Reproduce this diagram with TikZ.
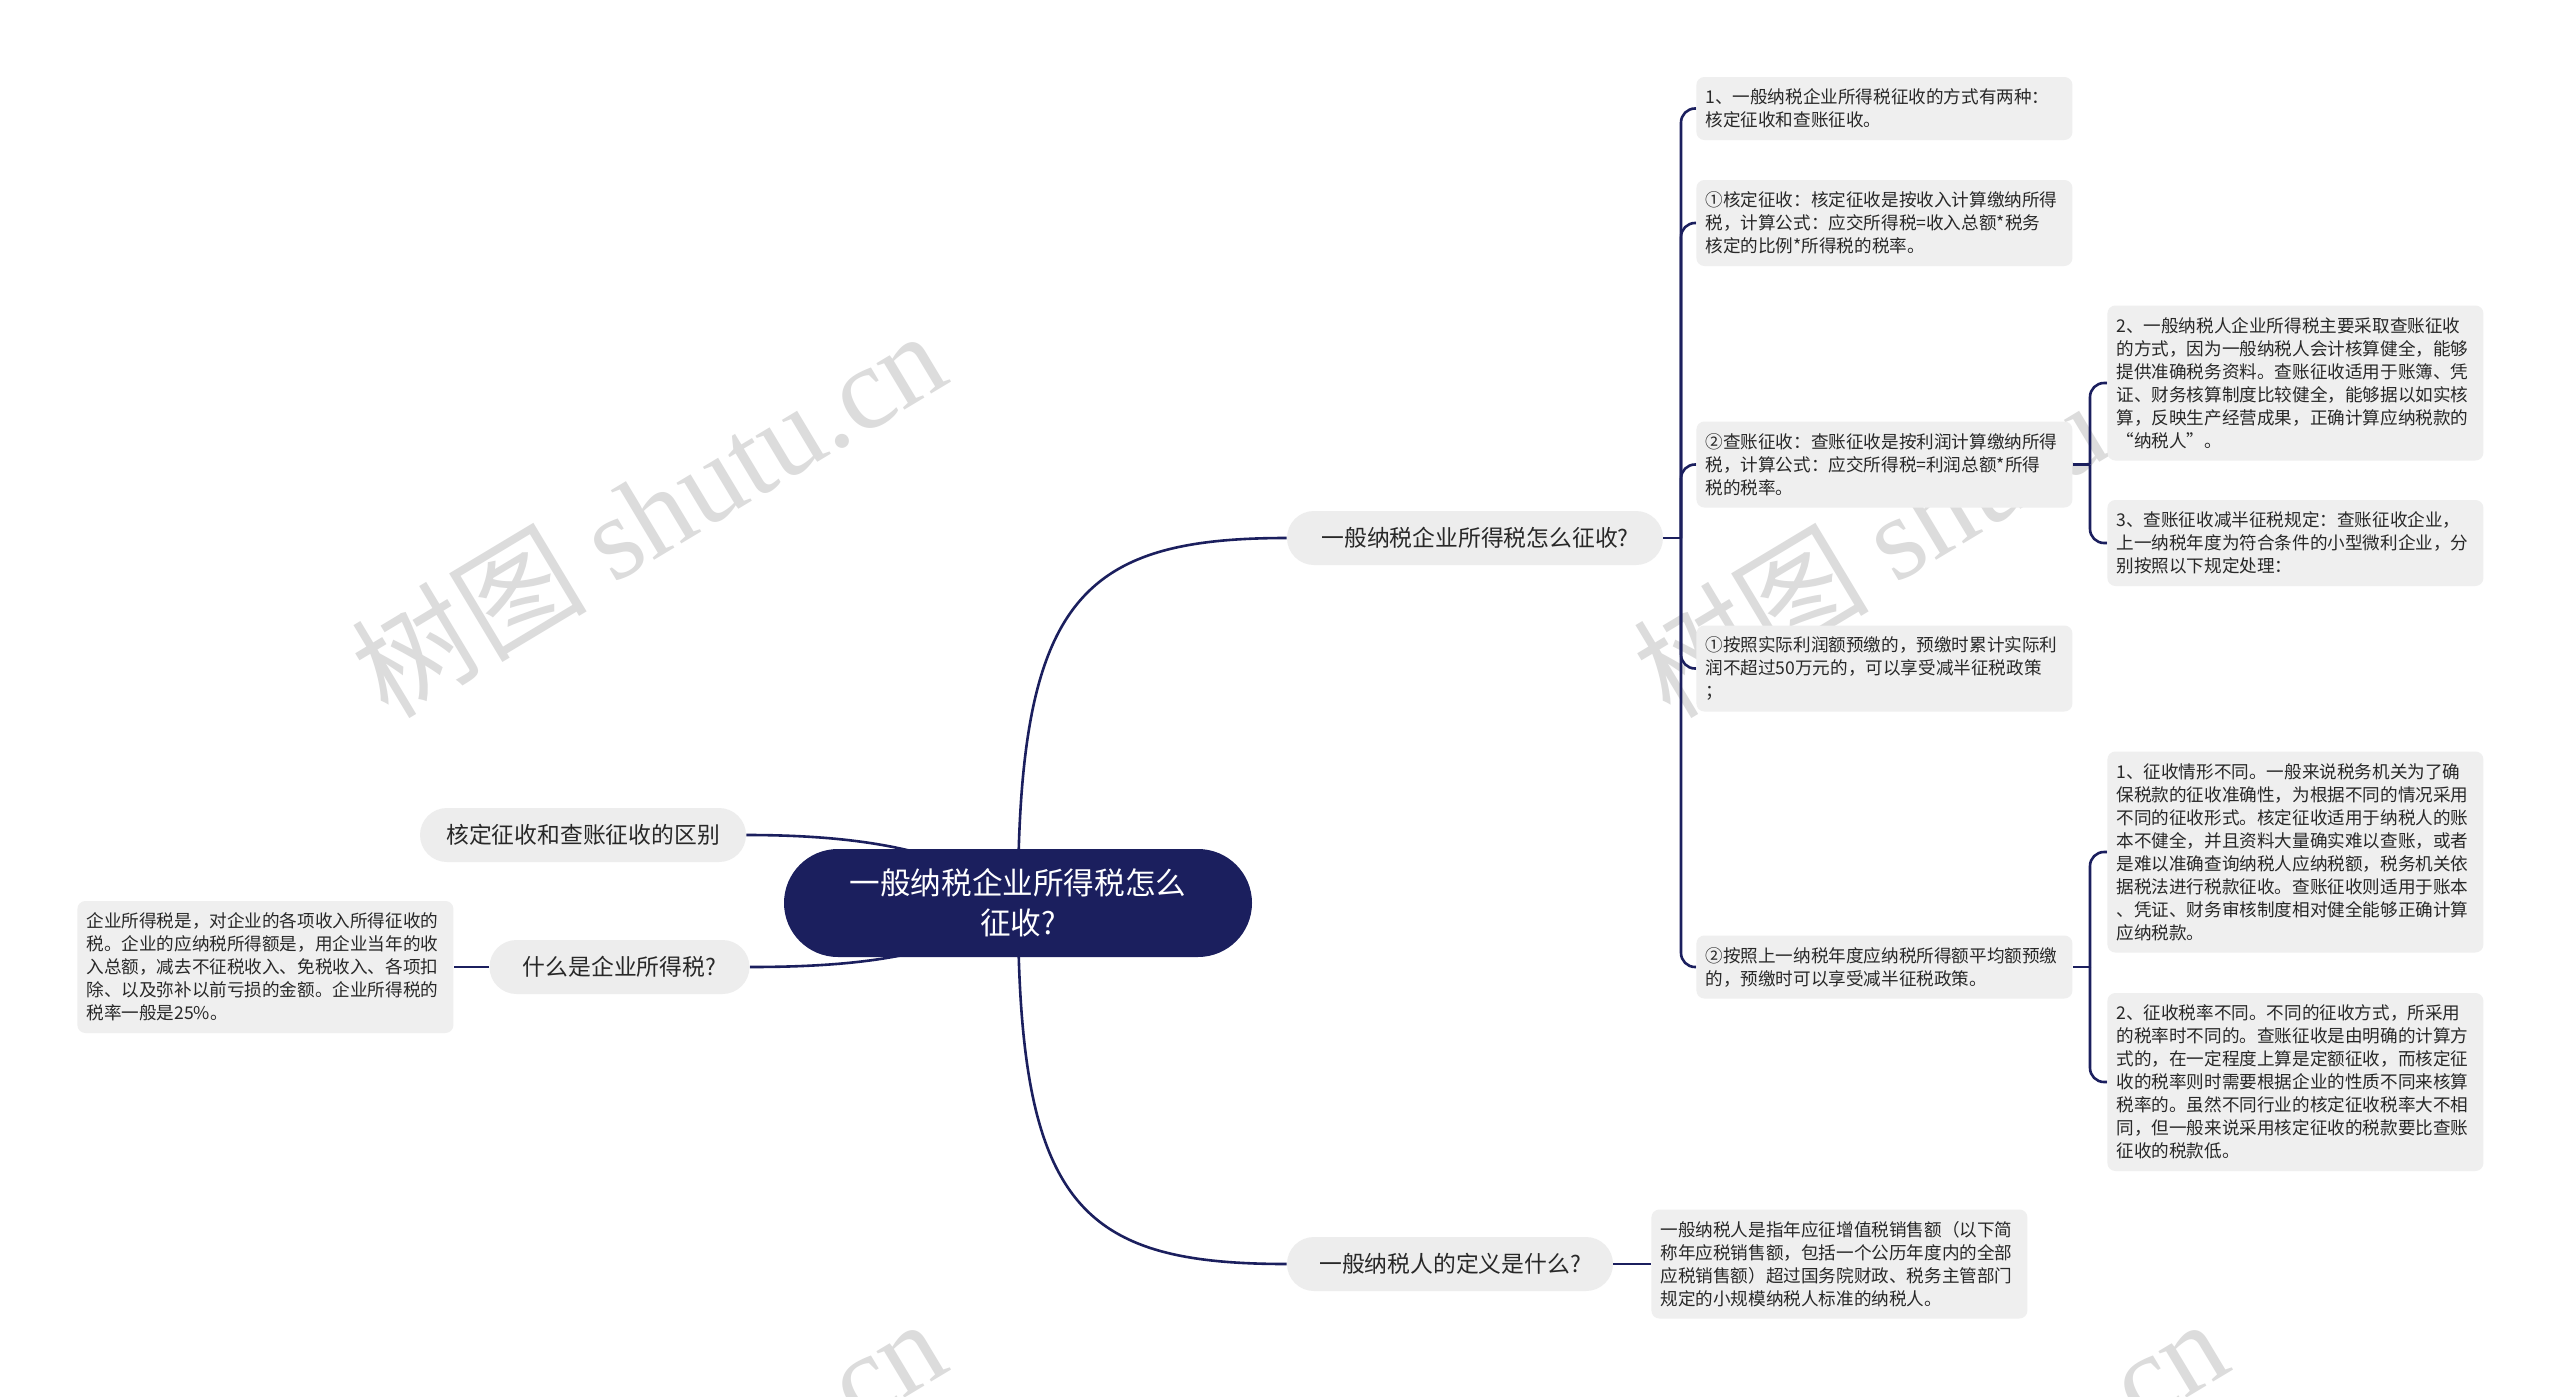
\documentclass[tikz,border=0pt]{standalone}
\usepackage{fontspec}
\setmainfont{Noto Sans CJK SC}
\newfontfamily\wmlatin{Liberation Serif}
\definecolor{navy}{RGB}{27,31,94}
\definecolor{boxgray}{RGB}{239,239,239}
\definecolor{pillgray}{RGB}{237,237,237}
\definecolor{txt}{RGB}{40,40,40}
\definecolor{wmgray}{RGB}{220,220,220}
\pgfdeclarelayer{wmlayer}
\pgfdeclarelayer{linelayer}
\pgfsetlayers{wmlayer,linelayer,main}
\begin{document}
\begin{tikzpicture}[x=0.5pt,y=-0.5pt,
  conn/.style={draw=navy,line width=1.3pt},
  bracket/.style={conn,rounded corners=7pt},
  tbox/.style={fill=boxgray,rounded corners=4pt,text=txt,align=left,text width=179pt,
    inner xsep=4.5pt,inner ysep=2pt,font=\fontsize{8.8pt}{11.5pt}\selectfont,
    minimum height=#1*11.5pt+8.5pt,anchor=west},
  pill/.style={fill=pillgray,rounded corners=13.5pt,text=txt,minimum height=27pt,
    font=\fontsize{11.4pt}{14pt}\selectfont,inner xsep=0pt},
  hubnode/.style={fill=navy,text=white,rounded corners=27pt,minimum width=234pt,
    minimum height=54pt,align=center,font=\fontsize{15.3pt}{20pt}\selectfont},
  wm/.style={text=wmgray,font=\fontsize{59pt}{65pt}\selectfont,rotate=31,inner sep=0pt}
]
\useasboundingbox (0,0) rectangle (2560,1397);
\begin{pgfonlayer}{wmlayer}
\fill[white] (0,0) rectangle (2560,1397);
\begin{scope}
\clip (0,0) rectangle (2560,1397);
\node[wm] (w1) at (648,512) {树图 {\wmlatin shutu.cn}};
\node[wm] (w2) at (1930,512) {树图 {\wmlatin shutu.cn}};
\node[wm] (w3) at (648,1500) {树图 {\wmlatin shutu.cn}};
\node[wm] (w4) at (1930,1500) {树图 {\wmlatin shutu.cn}};
\end{scope}
\end{pgfonlayer}

% central node
\node[hubnode] (c) at (1018,903) {一般纳税企业所得税怎么\\征收?};

% level 1
\node[pill,minimum width=188pt] (p1) at (1475,538) {一般纳税企业所得税怎么征收?};
\node[pill,minimum width=163pt] (p2) at (1450,1264) {一般纳税人的定义是什么?};
\node[pill,minimum width=163pt] (p3) at (583,835) {核定征收和查账征收的区别};
\node[pill,minimum width=130pt] (p4) at (619.5,967) {什么是企业所得税?};

% level 2
\node[tbox=2] (b1) at (1696,108.5) {1、一般纳税企业所得税征收的方式有两种：\\核定征收和查账征收。};
\node[tbox=3] (b2) at (1696,223) {①核定征收：核定征收是按收入计算缴纳所得\\税，计算公式：应交所得税=收入总额*税务\\核定的比例*所得税的税率。};
\node[tbox=3] (b3) at (1696,464.5) {②查账征收：查账征收是按利润计算缴纳所得\\税，计算公式：应交所得税=利润总额*所得\\税的税率。};
\node[tbox=3] (b4) at (1696,668.5) {①按照实际利润额预缴的，预缴时累计实际利\\润不超过50万元的，可以享受减半征税政策\\；};
\node[tbox=2] (b5) at (1696,967) {②按照上一纳税年度应纳税所得额平均额预缴\\的，预缴时可以享受减半征税政策。};

% level 3
\node[tbox=6] (bA) at (2107,383) {2、一般纳税人企业所得税主要采取查账征收\\的方式，因为一般纳税人会计核算健全，能够\\提供准确税务资料。查账征收适用于账簿、凭\\证、财务核算制度比较健全，能够据以如实核\\算，反映生产经营成果，正确计算应纳税款的\\“纳税人”。};
\node[tbox=3] (bB) at (2107,543) {3、查账征收减半征税规定：查账征收企业，\\上一纳税年度为符合条件的小型微利企业，分\\别按照以下规定处理：};
\node[tbox=8] (bC) at (2107,852) {1、征收情形不同。一般来说税务机关为了确\\保税款的征收准确性，为根据不同的情况采用\\不同的征收形式。核定征收适用于纳税人的账\\本不健全，并且资料大量确实难以查账，或者\\是难以准确查询纳税人应纳税额，税务机关依\\据税法进行税款征收。查账征收则适用于账本\\、凭证、财务审核制度相对健全能够正确计算\\应纳税款。};
\node[tbox=7] (bD) at (2107,1082) {2、征收税率不同。不同的征收方式，所采用\\的税率时不同的。查账征收是由明确的计算方\\式的，在一定程度上算是定额征收，而核定征\\收的税率则时需要根据企业的性质不同来核算\\税率的。虽然不同行业的核定征收税率大不相\\同，但一般来说采用核定征收的税款要比查账\\征收的税款低。};

% left detail and bottom detail
\node[tbox=5] (bL) at (77,967) {企业所得税是，对企业的各项收入所得征收的\\税。企业的应纳税所得额是，用企业当年的收\\入总额，减去不征税收入、免税收入、各项扣\\除、以及弥补以前亏损的金额。企业所得税的\\税率一般是25\%。};
\node[tbox=4] (bM) at (1651,1264) {一般纳税人是指年应征增值税销售额（以下简\\称年应税销售额，包括一个公历年度内的全部\\应税销售额）超过国务院财政、税务主管部门\\规定的小规模纳税人标准的纳税人。};

\coordinate (j1) at (1681,538);
\coordinate (j3) at (2090,464.5);
\coordinate (j5) at (2090,967);

\begin{pgfonlayer}{linelayer}
\draw[conn] (c.center) .. controls (1018,600) and (1080,538) .. (p1.west);
\draw[conn] (c.center) .. controls (1018,1206) and (1080,1264) .. (p2.west);
\draw[conn] (c.center) .. controls (960,850) and (860,835) .. (p3.east);
\draw[conn] (c.center) .. controls (960,956) and (860,967) .. (p4.east);

\draw[conn] (p1.east) -- (j1);
\draw[bracket] (j1) |- (b1.west);
\draw[bracket] (j1) |- (b2.west);
\draw[bracket] (j1) |- (b3.west);
\draw[bracket] (j1) |- (b4.west);
\draw[bracket] (j1) |- (b5.west);

\draw[conn] (b3.east) -- (j3);
\draw[bracket] (j3) |- (bA.west);
\draw[bracket] (j3) |- (bB.west);

\draw[conn] (b5.east) -- (j5);
\draw[bracket] (j5) |- (bC.west);
\draw[bracket] (j5) |- (bD.west);

\draw[conn] (p4.west) -- (bL.east);
\draw[conn] (p2.east) -- (bM.west);
\end{pgfonlayer}
\end{tikzpicture}
\end{document}
